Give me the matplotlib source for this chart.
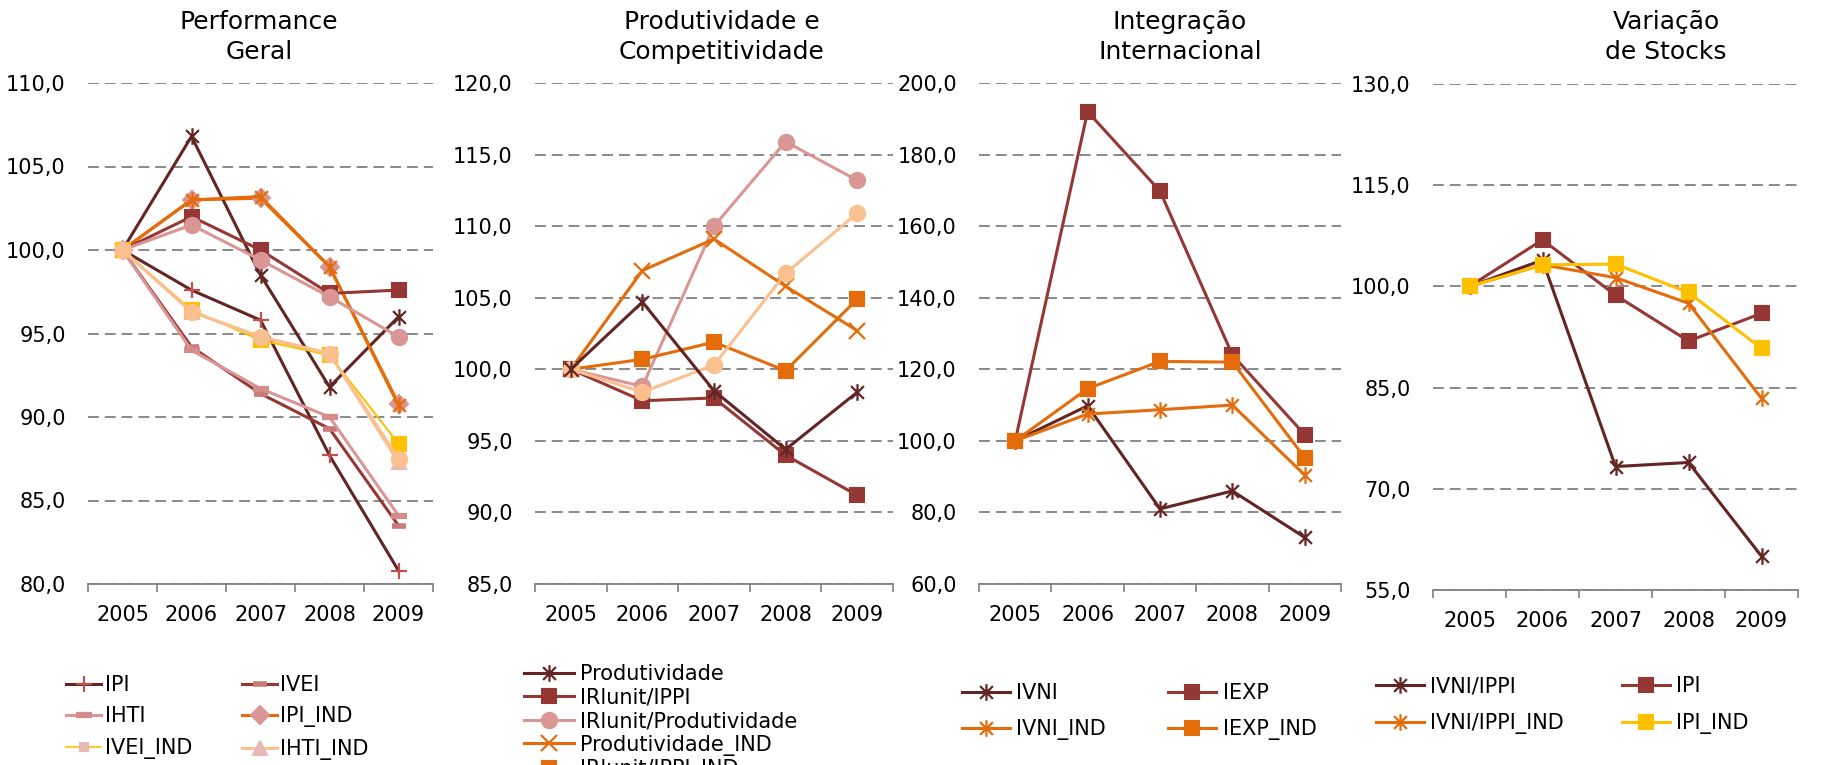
import numpy as np
import matplotlib
matplotlib.use('Agg')
import matplotlib.pyplot as plt
from matplotlib.path import Path
from matplotlib.ticker import FixedLocator, FixedFormatter

plt.rcParams['font.family'] = ['DejaVu Sans']

years = ['2005', '2006', '2007', '2008', '2009']

# ---------------- Panel 1 : Performance Geral ----------------
p1_ipi = [100.0, 97.6, 95.8, 87.7, 80.8]
p1_ivei = [100.0, 94.2, 91.4, 89.3, 83.5]
p1_ihti = [100.0, 94.0, 91.7, 90.0, 84.1]
p1_ipi_ind = [100.0, 103.0, 103.1, 99.0, 90.8]
p1_ivei_ind = [100.0, 96.4, 94.6, 93.7, 88.4]
p1_ihti_ind = [100.0, 96.3, 94.8, 93.8, 87.3]
# series whose legend entries are cut off below the picture
p1_extra_dark = [100.0, 106.8, 98.5, 91.8, 96.0]
p1_extra_orange = [100.0, 103.0, 103.2, 99.0, 90.7]
p1_extra_maroon = [100.0, 102.0, 100.0, 97.4, 97.6]
p1_extra_pink = [100.0, 101.5, 99.4, 97.2, 94.8]
p1_extra_gold = [100.0, 96.4, 94.6, 93.7, 88.4]
p1_extra_peach = [100.0, 96.3, 94.8, 93.8, 87.5]
p1_yticks = [80, 85, 90, 95, 100, 105, 110]

# ---------------- Panel 2 : Produtividade e Competitividade ----------------
p2_prod = [100.0, 104.7, 98.5, 94.4, 98.4]
p2_irl_ippi = [100.0, 97.8, 98.0, 94.0, 91.2]
p2_irl_prod = [100.0, 98.8, 110.0, 115.9, 113.2]
p2_prod_ind = [100.0, 106.9, 109.1, 105.8, 102.7]
p2_irl_ippi_ind = [100.0, 100.7, 101.9, 99.9, 104.9]
p2_irl_prod_ind = [100.0, 98.4, 100.3, 106.7, 110.9]
p2_yticks = [85, 90, 95, 100, 105, 110, 115, 120]

# ---------------- Panel 3 : Integração Internacional ----------------
p3_ivni = [100.0, 109.8, 81.0, 86.0, 73.0]
p3_iexp = [100.0, 192.0, 169.8, 124.0, 101.7]
p3_ivni_ind = [100.0, 107.5, 108.7, 110.0, 90.4]
p3_iexp_ind = [100.0, 114.6, 122.2, 122.0, 95.3]
p3_yticks = [60, 80, 100, 120, 140, 160, 180, 200]

# ---------------- Panel 4 : Variação de Stocks ----------------
p4_ivni_ippi = [100.0, 103.9, 73.3, 73.9, 60.0]
p4_ipi = [100.0, 106.9, 98.7, 91.9, 96.0]
p4_ivni_ippi_ind = [100.0, 103.2, 101.3, 97.5, 83.4]
p4_ipi_ind = [100.0, 103.2, 103.3, 99.1, 90.8]
p4_yticks = [55, 70, 85, 100, 115, 130]

titles = ['Performance\nGeral', 'Produtividade e\nCompetitividade',
          'Integração\nInternacional', 'Variação\nde Stocks']

# colours
DARK = '#632523'
MAROON = '#953735'
RED = '#C0504D'
PINK = '#D99694'
ORANGE = '#E46C0A'
PEACH = '#FAC090'
GOLD = '#FFC000'
PALE = '#E6B9B8'
GRID = '#808080'

W, H = 1826, 765
fig = plt.figure(figsize=(W / 100, H / 100), dpi=100)

# asterisk marker (x with a vertical bar)
ASTER = Path([(-1, -1), (1, 1), (-1, 1), (1, -1), (0, -1.3), (0, 1.3)],
             [Path.MOVETO, Path.LINETO] * 3)


def px_axes(left, top, right, bottom):
    return fig.add_axes([left / W, 1 - bottom / H, (right - left) / W, (bottom - top) / H])


def style_axes(ax, yticks):
    ax.set_xlim(-0.5, 4.5)
    ax.set_ylim(yticks[0], yticks[-1])
    ax.yaxis.set_major_locator(FixedLocator(yticks))
    ax.yaxis.set_major_formatter(FixedFormatter([f"{v:.1f}".replace('.', ',') for v in yticks]))
    ax.set_xticks(range(len(years)))
    ax.set_xticklabels(years)
    ax.set_xticks(np.arange(-0.5, len(years), 1.0), minor=True)
    ax.tick_params(axis='x', which='major', length=0, pad=15, labelsize=15, labelcolor='black')
    ax.tick_params(axis='x', which='minor', length=5.8, width=1.2, color=GRID, direction='out')
    ax.tick_params(axis='y', which='both', length=0, pad=16, labelsize=15, labelcolor='black')
    for s in ['top', 'left', 'right']:
        ax.spines[s].set_visible(False)
    ax.spines['bottom'].set_color(GRID)
    ax.spines['bottom'].set_linewidth(1.3)
    ax.yaxis.grid(True, color=GRID, lw=1.3, linestyle=(0, (6, 3.3)))
    ax.set_axisbelow(True)
    ax.set_facecolor('none')


def plot(ax, vals, color, marker, mcolor, ms=10, lw=2.2, mew=1.5, filled=True, label=None, z=3):
    x = np.arange(len(vals))
    kw = dict(color=color, lw=lw, marker=marker, ms=ms, mec=mcolor, mew=mew,
              mfc=mcolor if filled else 'none', clip_on=False, zorder=z, label=label)
    return ax.plot(x, vals, **kw)[0]


# -------- Panel 1
ax1 = px_axes(88, 83, 433, 584)
style_axes(ax1, p1_yticks)
h_ipi = plot(ax1, p1_ipi, DARK, '+', RED, ms=12, mew=1.6, label='IPI')
h_ivei = plot(ax1, p1_ivei, MAROON, '_', '#C97A78', ms=10, mew=4, label='IVEI')
h_ihti = plot(ax1, p1_ihti, PINK, '_', '#D58C8A', ms=11, mew=4.5, label='IHTI')
h_ipi_ind = plot(ax1, p1_ipi_ind, ORANGE, 'D', PINK, ms=9, label='IPI_IND')
h_ivei_ind = plot(ax1, p1_ivei_ind, GOLD, 's', PALE, ms=6, lw=1.2, label='IVEI_IND')
h_ihti_ind = plot(ax1, p1_ihti_ind, PEACH, '^', PALE, ms=10, label='IHTI_IND')
plot(ax1, p1_extra_dark, DARK, ASTER, DARK, ms=12, mew=1.6, filled=False, z=4)
plot(ax1, p1_extra_orange, ORANGE, ASTER, ORANGE, ms=12, mew=1.6, filled=False, z=4)
plot(ax1, p1_extra_maroon, MAROON, 's', MAROON, z=4)
plot(ax1, p1_extra_pink, PINK, 'o', PINK, ms=11, z=4)
plot(ax1, p1_extra_gold, GOLD, 's', GOLD, lw=1.2, z=4)
plot(ax1, p1_extra_peach, PEACH, 'o', PEACH, ms=11, z=5)

# -------- Panel 2
ax2 = px_axes(535, 83, 893, 584)
style_axes(ax2, p2_yticks)
g1 = plot(ax2, p2_prod, DARK, ASTER, DARK, ms=12, mew=1.6, filled=False, label='Produtividade', z=5)
g2 = plot(ax2, p2_irl_ippi, MAROON, 's', MAROON, label='IRlunit/IPPI', z=4)
g3 = plot(ax2, p2_irl_prod, PINK, 'o', PINK, ms=11, label='IRlunit/Produtividade')
g4 = plot(ax2, p2_prod_ind, ORANGE, 'x', ORANGE, ms=11, mew=1.6, label='Produtividade_IND')
g5 = plot(ax2, p2_irl_ippi_ind, ORANGE, 's', ORANGE, label='IRlunit/IPPI_IND')
g6 = plot(ax2, p2_irl_prod_ind, PEACH, 'o', PEACH, ms=11, label='IRlunit/Produtividade_IND', z=4)

# -------- Panel 3
ax3 = px_axes(979, 83, 1341, 584)
style_axes(ax3, p3_yticks)
k1 = plot(ax3, p3_ivni, DARK, ASTER, DARK, ms=12, mew=1.6, filled=False, label='IVNI')
k2 = plot(ax3, p3_iexp, MAROON, 's', MAROON, label='IEXP')
k3 = plot(ax3, p3_ivni_ind, ORANGE, ASTER, ORANGE, ms=12, mew=1.6, filled=False, label='IVNI_IND', z=4)
k4 = plot(ax3, p3_iexp_ind, ORANGE, 's', ORANGE, label='IEXP_IND', z=4)

# -------- Panel 4
ax4 = px_axes(1433, 84, 1798, 590)
style_axes(ax4, p4_yticks)
m1 = plot(ax4, p4_ivni_ippi, DARK, ASTER, DARK, ms=12, mew=1.6, filled=False, label='IVNI/IPPI')
m2 = plot(ax4, p4_ipi, MAROON, 's', MAROON, label='IPI')
m3 = plot(ax4, p4_ivni_ippi_ind, ORANGE, ASTER, ORANGE, ms=12, mew=1.6, filled=False, label='IVNI/IPPI_IND')
m4 = plot(ax4, p4_ipi_ind, GOLD, 's', GOLD, label='IPI_IND', z=4)

# -------- Titles
for (xc, t) in zip([259, 722, 1180, 1666], titles):
    fig.text(xc / W, 1 - 37 / H, t, ha='center', va='center', fontsize=18,
             linespacing=1.35, color='black')

# -------- Legends
def legend(handles, x, ytop, ncol, hl, htp, ls, cs):
    fig.legend(handles=handles, labels=[h.get_label() for h in handles],
               loc='upper left', bbox_to_anchor=(x / W, 1 - ytop / H),
               bbox_transform=fig.transFigure, ncol=ncol, frameon=False,
               fontsize=15, handlelength=hl, handletextpad=htp, labelspacing=ls,
               columnspacing=cs, borderpad=0, borderaxespad=0, numpoints=1)

legend([h_ipi, h_ihti, h_ivei_ind, h_ivei, h_ipi_ind, h_ihti_ind], 66, 675, 2, 1.7, 0.15, 0.55, 2.4)
legend([g1, g2, g3, g4, g5, g6], 524, 664, 1, 2.4, 0.3, 0.17, 2.0)
legend([k1, k3, k2, k4], 962, 683, 2, 2.3, 0.3, 0.77, 3.0)
legend([m1, m3, m2, m4], 1376, 676, 2, 2.3, 0.3, 0.82, 2.8)

fig.savefig('out.png', dpi=100)
